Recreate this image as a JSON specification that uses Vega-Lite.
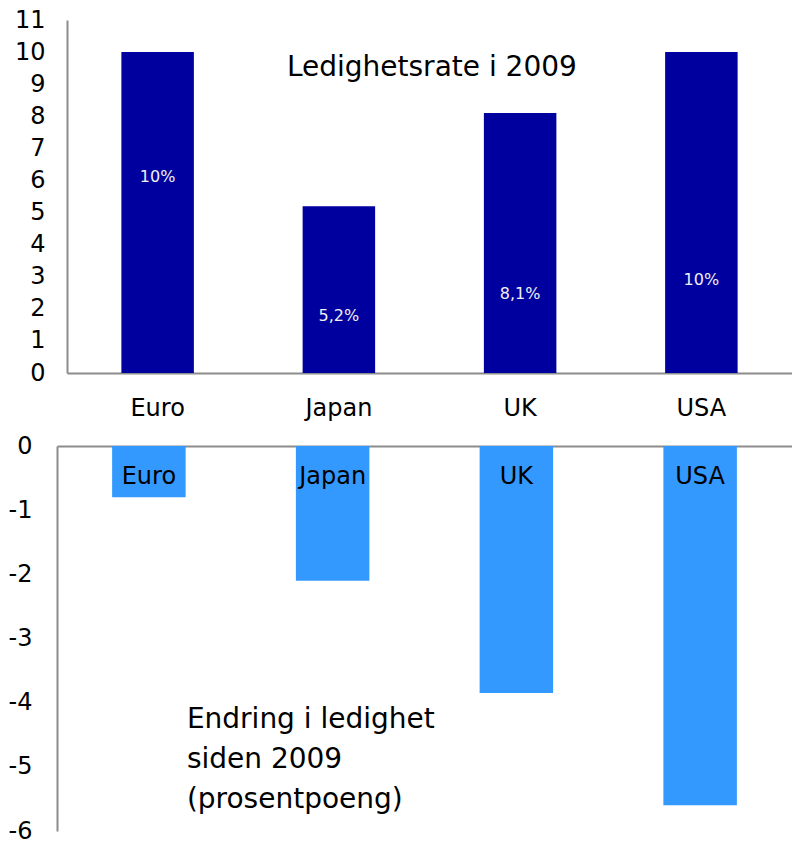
{
  "$schema": "https://vega.github.io/schema/vega-lite/v6.json",
  "padding": {"left": 8, "top": 8, "right": 0, "bottom": 0},
  "spacing": 14,
  "config": {
    "view": {"stroke": null},
    "font": "DejaVu Sans",
    "axis": {
      "domainColor": "#8c8c8c",
      "domainWidth": 2,
      "ticks": false,
      "grid": false,
      "labelFont": "DejaVu Sans",
      "labelFontSize": 24,
      "labelColor": "#000000",
      "labelOverlap": false,
      "title": null
    }
  },
  "datasets": {
    "rate": [
      {"country": "Euro", "rate": 10, "label": "10%"},
      {"country": "Japan", "rate": 5.2, "label": "5,2%"},
      {"country": "UK", "rate": 8.1, "label": "8,1%"},
      {"country": "USA", "rate": 10, "label": "10%"}
    ],
    "change": [
      {"country": "Euro", "change": -0.8},
      {"country": "Japan", "change": -2.1},
      {"country": "UK", "change": -3.85},
      {"country": "USA", "change": -5.6}
    ]
  },
  "vconcat": [
    {
      "width": 735,
      "height": 353,
      "data": {"name": "rate"},
      "encoding": {
        "x": {
          "field": "country",
          "type": "nominal",
          "sort": null,
          "scale": {"paddingInner": 0.6, "paddingOuter": 0.3, "rangeMin": 10},
          "axis": {"labelAngle": 0, "labelPadding": 23, "orient": "bottom"}
        }
      },
      "layer": [
        {
          "mark": {"type": "bar", "color": "#00009E"},
          "encoding": {
            "y": {
              "field": "rate",
              "type": "quantitative",
              "scale": {"domain": [0, 11], "nice": false},
              "axis": {"values": [0,1,2,3,4,5,6,7,8,9,10,11], "labelPadding": 22, "offset": -10, "labelOverlap": false, "labelFlush": false, "labelExpr": "toString(datum.value)"}
            }
          }
        },
        {
          "transform": [{"filter": "datum.country === 'Euro'"}],
          "mark": {"type": "text", "color": "#f0f0f0", "fontSize": 16, "baseline": "middle"},
          "encoding": {"y": {"datum": 6.1, "type": "quantitative", "axis": {"values": [0,1,2,3,4,5,6,7,8,9,10,11], "labelPadding": 22, "offset": -10, "labelOverlap": false, "labelFlush": false, "labelExpr": "toString(datum.value)"}}, "text": {"field": "label"}}
        },
        {
          "transform": [{"filter": "datum.country === 'Japan'"}],
          "mark": {"type": "text", "color": "#f0f0f0", "fontSize": 16, "baseline": "middle"},
          "encoding": {"y": {"datum": 1.78, "type": "quantitative", "axis": {"values": [0,1,2,3,4,5,6,7,8,9,10,11], "labelPadding": 22, "offset": -10, "labelOverlap": false, "labelFlush": false, "labelExpr": "toString(datum.value)"}}, "text": {"field": "label"}}
        },
        {
          "transform": [{"filter": "datum.country === 'UK'"}],
          "mark": {"type": "text", "color": "#f0f0f0", "fontSize": 16, "baseline": "middle"},
          "encoding": {"y": {"datum": 2.46, "type": "quantitative", "axis": {"values": [0,1,2,3,4,5,6,7,8,9,10,11], "labelPadding": 22, "offset": -10, "labelOverlap": false, "labelFlush": false, "labelExpr": "toString(datum.value)"}}, "text": {"field": "label"}}
        },
        {
          "transform": [{"filter": "datum.country === 'USA'"}],
          "mark": {"type": "text", "color": "#f0f0f0", "fontSize": 16, "baseline": "middle"},
          "encoding": {"y": {"datum": 2.9, "type": "quantitative", "axis": {"values": [0,1,2,3,4,5,6,7,8,9,10,11], "labelPadding": 22, "offset": -10, "labelOverlap": false, "labelFlush": false, "labelExpr": "toString(datum.value)"}}, "text": {"field": "label"}}
        },
        {
          "data": {"values": [{"t": "Ledighetsrate i 2009"}]},
          "mark": {"type": "text", "fontSize": 28, "color": "#000000", "align": "center", "baseline": "alphabetic", "dx": 93},
          "encoding": {
            "x": {"datum": "Japan", "type": "nominal"},
            "y": {"datum": 9.26, "type": "quantitative", "axis": {"values": [0,1,2,3,4,5,6,7,8,9,10,11], "labelPadding": 22, "offset": -10, "labelOverlap": false, "labelFlush": false, "labelExpr": "toString(datum.value)"}},
            "text": {"field": "t"}
          }
        }
      ]
    },
    {
      "width": 735,
      "height": 385,
      "data": {"name": "change"},
      "encoding": {
        "x": {
          "field": "country",
          "type": "nominal",
          "sort": null,
          "scale": {"paddingInner": 0.6, "paddingOuter": 0.3},
          "axis": {"orient": "top", "labels": false}
        }
      },
      "layer": [
        {
          "mark": {"type": "bar", "color": "#3399FF"},
          "encoding": {
            "y": {
              "field": "change",
              "type": "quantitative",
              "scale": {"domain": [-6, 0], "nice": false},
              "axis": {"values": [-6,-5,-4,-3,-2,-1,0], "labelPadding": 25, "labelOverlap": false, "labelFlush": false, "labelExpr": "toString(datum.value)"}
            }
          }
        },
        {
          "mark": {"type": "text", "fontSize": 24, "color": "#000000", "baseline": "middle", "dy": 31},
          "encoding": {
            "y": {"datum": 0, "type": "quantitative", "axis": {"values": [-6,-5,-4,-3,-2,-1,0], "labelPadding": 25, "labelOverlap": false, "labelFlush": false, "labelExpr": "toString(datum.value)"}},
            "text": {"field": "country"}
          }
        },
        {
          "data": {"values": [{"t": ["Endring i ledighet", "siden 2009", "(prosentpoeng)"]}]},
          "mark": {"type": "text", "fontSize": 28, "color": "#000000", "align": "left", "baseline": "alphabetic", "lineHeight": 40, "dx": 38},
          "encoding": {
            "x": {"datum": "Euro", "type": "nominal"},
            "y": {"datum": -4.39, "type": "quantitative", "axis": {"values": [-6,-5,-4,-3,-2,-1,0], "labelPadding": 25, "labelOverlap": false, "labelFlush": false, "labelExpr": "toString(datum.value)"}},
            "text": {"field": "t"}
          }
        }
      ]
    }
  ]
}
